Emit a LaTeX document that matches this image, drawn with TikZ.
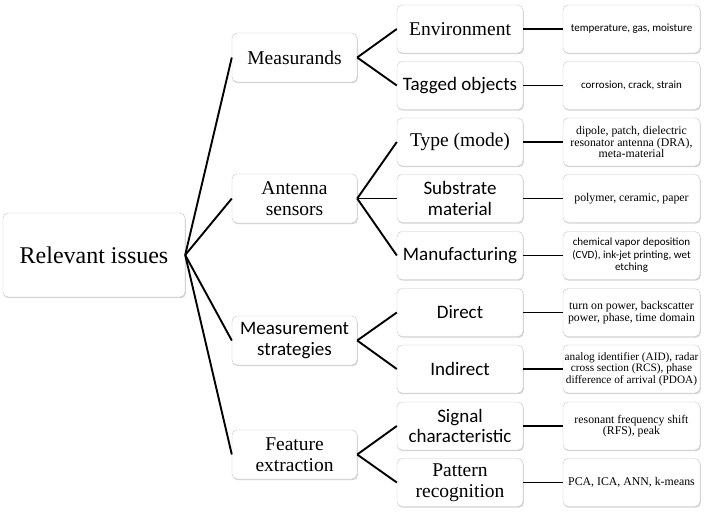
\documentclass[tikz,border=0pt]{standalone}
\usepackage{fontspec}
\setmainfont{Liberation Serif}
\setsansfont{Carlito}
\usetikzlibrary{positioning,shadows}

\tikzset{
	issuebox/.style={draw=gray!45, rounded corners=5pt, fill=white, align=center, inner sep=1pt,
		drop shadow={shadow xshift=0.8pt, shadow yshift=-1.2pt, opacity=0.35}},
	rootbox/.style={issuebox, minimum width=182pt, minimum height=84pt, font=\fontsize{24}{28}\selectfont},
	catbox/.style={issuebox, minimum width=125pt, minimum height=49pt},
	subbox/.style={issuebox, minimum width=126pt, minimum height=48pt},
	leafbox/.style={issuebox, minimum width=137pt, minimum height=48pt},
	txtrm/.style={font=\fontsize{19.5}{21.5}\selectfont},
	txtsf/.style={font=\sffamily\fontsize{19}{20.5}\selectfont},
	leafrm/.style={font=\fontsize{11.8}{11.6}\selectfont},
	leafsf/.style={font=\sffamily\fontsize{11}{12.6}\selectfont},
	link/.style={draw=black, line width=1.9pt}
}

\begin{document}
\begin{tikzpicture}[x=1pt,y=-1pt]
		\useasboundingbox (0,0) rectangle (705,512);
		\def\xa{294.5}
		\def\xb{460}
		\def\xc{631.5}
		%Root
		\node[rootbox] (root) at (94,255) {Relevant issues};
		%Categories
		\node[catbox,txtrm] (meas) at (\xa,57.5) {Measurands};
		\node[catbox,txtrm] (ant) at (\xa,198.5) {Antenna\\sensors};
		\node[catbox,txtsf] (strat) at (\xa,340.5) {Measurement\\strategies};
		\node[catbox,txtrm] (feat) at (\xa,454.5) {Feature\\extraction};
		%Sub-issues
		\node[subbox,txtrm] (env) at (\xb,29) {Environment};
		\node[subbox,txtsf] (tag) at (\xb,85.5) {Tagged objects};
		\node[subbox,txtrm] (type) at (\xb,142) {Type (mode)};
		\node[subbox,txtsf] (subs) at (\xb,198.5) {Substrate\\material};
		\node[subbox,txtsf] (manu) at (\xb,255.5) {Manufacturing};
		\node[subbox,txtsf] (dir) at (\xb,312.5) {Direct};
		\node[subbox,txtsf] (indir) at (\xb,369) {Indirect};
		\node[subbox,txtsf] (sig) at (\xb,426) {Signal\\characteristic};
		\node[subbox,txtrm] (patt) at (\xb,482.5) {Pattern\\recognition};
		%Details
		\node[leafbox,leafsf] (envl) at (\xc,29) {temperature, gas, moisture};
		\node[leafbox,leafsf] (tagl) at (\xc,85.5) {corrosion, crack, strain};
		\node[leafbox,leafrm] (typel) at (\xc,142) {dipole, patch, dielectric\\resonator antenna (DRA),\\meta-material};
		\node[leafbox,leafrm] (subsl) at (\xc,198.5) {polymer, ceramic, paper};
		\node[leafbox,leafsf] (manul) at (\xc,255.5) {chemical vapor deposition\\(CVD), ink-jet printing, wet\\etching};
		\node[leafbox,leafrm] (dirl) at (\xc,312.5) {turn on power, backscatter\\power, phase, time domain};
		\node[leafbox,leafrm,font=\fontsize{11.3}{11.6}\selectfont] (indirl) at (\xc,369) {analog identifier (AID), radar\\cross section (RCS), phase\\difference of arrival (PDOA)};
		\node[leafbox,leafrm] (sigl) at (\xc,426) {resonant frequency shift\\(RFS), peak};
		\node[leafbox,leafrm] (pattl) at (\xc,482.5) {PCA, ICA, ANN, k-means};
		%Links
		\foreach \c in {meas,ant,strat,feat}
			\draw[link] (root.east) -- (\c.west);
		\draw[link] (meas.east) -- (env.west);
		\draw[link] (meas.east) -- (tag.west);
		\draw[link] (ant.east) -- (type.west);
		\draw[link] (ant.east) -- (subs.west);
		\draw[link] (ant.east) -- (manu.west);
		\draw[link] (strat.east) -- (dir.west);
		\draw[link] (strat.east) -- (indir.west);
		\draw[link] (feat.east) -- (sig.west);
		\draw[link] (feat.east) -- (patt.west);
		\foreach \s in {env,tag,type,subs,manu,dir,indir,sig,patt}
			\draw[link] (\s.east) -- (\s l.west);
\end{tikzpicture}
\end{document}
